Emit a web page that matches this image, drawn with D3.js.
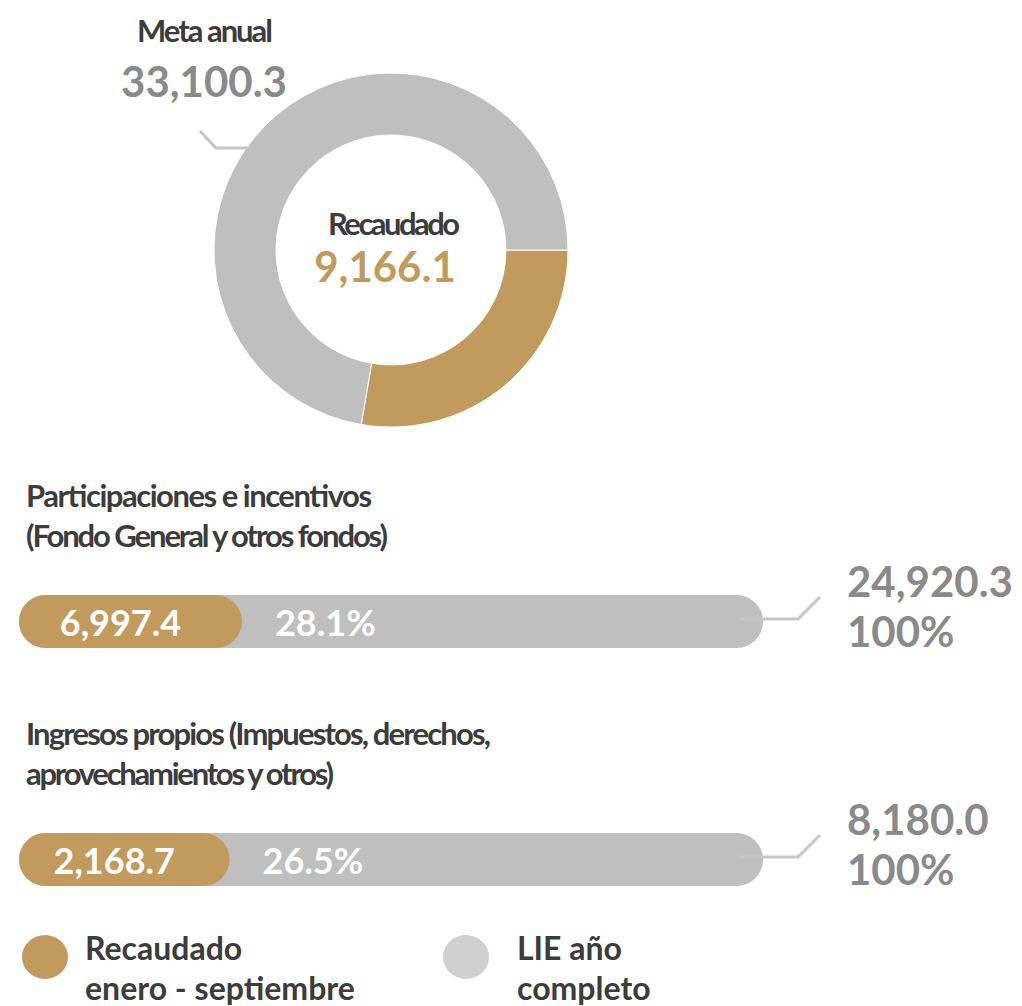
<!DOCTYPE html>
<html><head><meta charset="utf-8">
<script src="https://cdn.jsdelivr.net/npm/d3@7"></script>
<style>
html,body{margin:0;padding:0;background:#fff;}
svg{display:block;font-family:Lato,"Open Sans",sans-serif;}
</style></head>
<body>
<svg id="chart" width="1022" height="1006"></svg>
<script>
// ---- data ----
const donutLabels = ["Recaudado", "Por recaudar"];
const metaAnual = 33100.3;
const recaudadoTotal = 9166.1;
const barTitles = [
  ["Participaciones e incentivos", "(Fondo General y otros fondos)"],
  ["Ingresos propios (Impuestos, derechos,", "aprovechamientos y otros)"]
];
const barRecaudado = [6997.4, 2168.7];
const barLIE = [24920.3, 8180.0];
const barPct = ["28.1%", "26.5%"];
const barTotalPct = ["100%", "100%"];
const legendLabels = [["Recaudado", "enero - septiembre"], ["LIE año", "completo"]];

// ---- layout / style (not data) ----
const titleWidths = [[346, 362], [465, 308]];
const GOLD = "#c29a5d", GRAY = "#bfbfbf", LEG_GRAY = "#d0d0d0", DARK = "#3c3c3c", NUM = "#8a8a8a", LINE = "#c6c6c6";
const fmt = d3.format(",.1f");

const svg = d3.select("#chart");

function condensed(sel, w) {
  return sel.attr("font-size", 31).attr("font-weight", 700).attr("fill", DARK)
    .attr("textLength", w).attr("lengthAdjust", "spacing");
}

// ---- donut ----
const cx = 391, cy = 250, rOut = 177, rIn = 115;
const pie = d3.pie().sort(null).startAngle(Math.PI / 2).endAngle(Math.PI / 2 + 2 * Math.PI);
const arcs = pie([recaudadoTotal, metaAnual - recaudadoTotal]);
const arc = d3.arc().innerRadius(rIn).outerRadius(rOut);
const g = svg.append("g").attr("transform", `translate(${cx},${cy})`);
g.selectAll("path").data(arcs).join("path")
  .attr("d", arc)
  .attr("fill", (d, i) => i === 0 ? GOLD : GRAY)
  .attr("stroke", "#fff").attr("stroke-width", 1);

condensed(g.append("text").attr("x", -63).attr("y", -15), 132).text(donutLabels[0]);
g.append("text").attr("x", -6).attr("y", 32).attr("text-anchor", "middle")
  .attr("font-size", 42).attr("font-weight", 700).attr("fill", GOLD)
  .text(fmt(recaudadoTotal));

// meta anual labels
condensed(svg.append("text").attr("x", 137).attr("y", 42), 136).text("Meta anual");
svg.append("text").attr("x", 204).attr("y", 97).attr("text-anchor", "middle")
  .attr("font-size", 42).attr("font-weight", 700).attr("fill", NUM)
  .text(fmt(metaAnual));
svg.append("path").attr("d", "M200,131 L216,148 L248,148")
  .attr("fill", "none").attr("stroke", LINE).attr("stroke-width", 3);

// ---- bars ----
const barX0 = 19, barH = 53, barW = 744;
const barTops = [595, 833];
const titleTops = [507, 745];
barRecaudado.forEach((v, i) => {
  const x = d3.scaleLinear().domain([0, barLIE[i]]).range([0, 794]);
  const bg = svg.append("g");
  const y0 = barTops[i];
  barTitles[i].forEach((t, j) => {
    condensed(bg.append("text").attr("x", 26).attr("y", titleTops[i] + j * 40), titleWidths[i][j]).text(t);
  });
  bg.append("rect").attr("x", barX0).attr("y", y0).attr("width", barW).attr("height", barH)
    .attr("rx", barH / 2).attr("fill", GRAY);
  bg.append("rect").attr("x", barX0).attr("y", y0).attr("width", x(v)).attr("height", barH)
    .attr("rx", barH / 2).attr("fill", GOLD);
  bg.append("text").attr("x", barX0 + x(v) / 2 - 10).attr("y", y0 + 41).attr("text-anchor", "middle")
    .attr("font-size", 36).attr("font-weight", 700).attr("fill", "#fff")
    .text(fmt(v));
  bg.append("text").attr("x", barX0 + x(v) + 33).attr("y", y0 + 41)
    .attr("font-size", 36).attr("font-weight", 700).attr("fill", "#fff")
    .text(barPct[i]);
  const ly = y0 + 24;
  bg.append("path").attr("d", `M${barX0 + barW - 24},${ly} L${barX0 + barW + 35},${ly} L${barX0 + barW + 57},${ly - 22}`)
    .attr("fill", "none").attr("stroke", LINE).attr("stroke-width", 3);
  bg.append("text").attr("x", 847).attr("y", y0 + 2).attr("font-size", 42).attr("font-weight", 700).attr("fill", NUM)
    .text(fmt(barLIE[i]));
  bg.append("text").attr("x", 847).attr("y", y0 + 52).attr("font-size", 42).attr("font-weight", 700).attr("fill", NUM)
    .text(barTotalPct[i]);
});

// ---- legend ----
const legendX = [45, 466];
const legendColors = [GOLD, LEG_GRAY];
legendLabels.forEach((lab, i) => {
  const lg = svg.append("g");
  lg.append("ellipse").attr("cx", legendX[i]).attr("cy", 957).attr("rx", 23).attr("ry", 22).attr("fill", legendColors[i]);
  lab.forEach((t, j) => {
    lg.append("text").attr("x", legendX[i] + 40 + (i === 1 ? 11 : 0)).attr("y", 960 + j * 40)
      .attr("font-size", 32).attr("font-weight", 700).attr("fill", DARK)
      .text(t);
  });
});
</script>
</body></html>
